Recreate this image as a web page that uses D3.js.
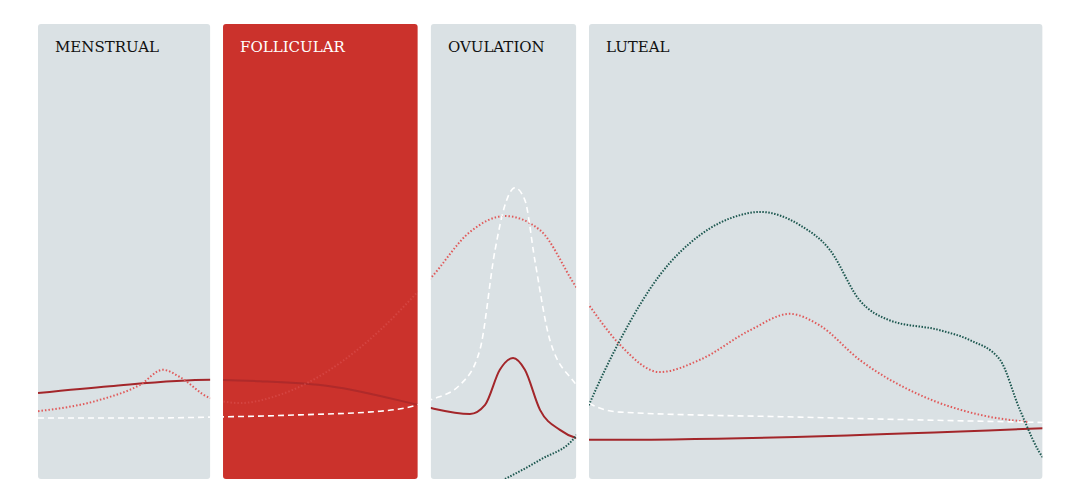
<!DOCTYPE html>
<html><head><meta charset="utf-8">
<script src="https://cdn.jsdelivr.net/npm/d3@7"></script>
<style>body{margin:0;background:#fff}</style></head>
<body><svg id="c" width="1081" height="504"></svg>
<script>
// phases: [name, startDay, endDay]
const phases = ["MENSTRUAL","FOLLICULAR","OVULATION","LUTEAL"];
const phaseStart = [0, 5.02, 10.66, 14.95];
const phaseEnd = [4.67, 10.3, 14.6, 27.25];
// series: day positions and hormone levels (relative 0-100)
const solidDays = [0,1.95,4.67,6.02,7.92,10.3,10.66,11.72,12.13,12.53,12.89,13.21,13.62,14.16,14.6,14.95,28];
const solidVals = [18.9,20.4,21.8,21.5,20.4,16.3,15.6,14.3,16.3,24,26.6,24,15.2,10.8,9.0,8.6,11.4];
const pinkDays = [0,1.68,2.77,3.39,3.85,4.67,5.48,6.56,7.92,9.28,10.3,10.66,11.72,12.67,13.62,14.6,14.95,15.79,16.87,17.96,19.32,20.4,21.2,22.29,23.92,25.56,26.9];
const pinkVals = [14.9,17.4,20.7,24,22.4,17.8,16.7,18.5,24,32.7,41.1,44.2,54.3,57.8,54.7,42.2,38.2,29.5,23.5,26.2,32.7,36.3,33.8,26.2,18.5,14.1,12.5];
const whiteDays = [0,3.04,4.67,7.11,9.28,10.3,10.66,11.45,11.99,12.4,12.67,12.94,13.21,13.48,13.89,14.6,14.95,15.79,20.67,28];
const whiteVals = [13.4,13.4,13.6,14.1,14.9,16.3,17.4,20.7,28.4,50.3,60.2,64,61.3,48.1,30.5,20.7,16.7,14.7,13.6,12.3];
const greenDays = [12.67,13.62,14.6,14.95,15.79,16.87,17.96,19.05,19.59,20.67,21.49,22.29,23.1,24.47,25.29,26.1,26.64,27.32,28];
const greenVals = [0,4.2,9.5,16.3,30.5,44.8,53.6,58,58.7,55.8,50.3,39.3,34.9,32.7,30.5,26.2,15.2,4.2,1.3];

const svg = d3.select("#c");
const x = d3.scaleLinear().domain([0,28]).range([38,1070]);
const y = d3.scaleLinear().domain([0,100]).range([479,24]);
const yTop = y(100), yBot = y(0);

const line = d3.line().x(d=>x(d[0])).y(d=>y(d[1])).curve(d3.curveMonotoneX);
const zip = (a,b)=>a.map((v,i)=>[v,b[i]]);
const series = [
  {data:zip(solidDays,solidVals), color:"#a3262a", w:2, dash:null},
  {data:zip(pinkDays,pinkVals), color:"#e05a5a", w:2, dash:"1.5,2"},
  {data:zip(whiteDays,whiteVals), color:"#ffffff", w:1.6, dash:"6,4"},
  {data:zip(greenDays,greenVals), color:"#1d5850", w:2, dash:"1.5,1.5"}
];

const defs = svg.append("defs");
phases.forEach((p,i)=>{
  const x0 = x(phaseStart[i]), x1 = x(phaseEnd[i]);
  defs.append("clipPath").attr("id","cl"+i).append("rect")
    .attr("x",x0).attr("y",yTop).attr("width",x1-x0).attr("height",yBot-yTop).attr("rx",3);
  const fol = p==="FOLLICULAR";
  svg.append("rect").attr("x",x0).attr("y",yTop).attr("width",x1-x0).attr("height",yBot-yTop)
    .attr("rx",3).attr("fill", fol ? "#cb322c" : "#dae1e4");
  const g = svg.append("g").attr("clip-path",`url(#cl${i})`);
  series.forEach((s,j)=>{
    g.append("path").attr("d",line(s.data)).attr("fill","none")
      .attr("stroke",s.color).attr("stroke-width",s.w)
      .attr("stroke-dasharray",s.dash)
      .attr("opacity", fol && j===1 ? 0.45 : (fol && j===0 ? 0.7 : 1));
  });
  svg.append("text").attr("x",x0+17).attr("y",52).text(p)
    .attr("font-family","'DejaVu Serif', 'Liberation Serif', serif").attr("font-size",15)
    .attr("fill", fol ? "#ffffff" : "#111");
});
</script></body></html>
